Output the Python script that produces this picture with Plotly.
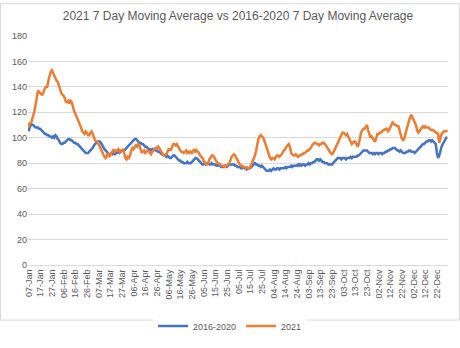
import pandas as pd
import plotly.graph_objects as go

# daily categories (leap-year calendar: 26-Feb + 10 days = 07-Mar)
dates = [d.strftime("%d-%b") for d in pd.date_range("2020-01-07", "2020-12-31", freq="D")]
tick_labels = dates[::10]

avg_2016_2020 = [
    105, 109, 111, 110, 110, 109, 108, 108, 108, 107, 107, 106, 105, 104, 103, 103, 102, 102, 101, 101,
    100, 101, 100, 102, 101, 99, 98, 96, 95, 95, 96, 96, 97, 98, 99, 99, 98, 98, 97, 96,
    96, 95, 95, 94, 93, 92, 91, 90, 89, 88, 88, 88, 89, 90, 91, 92, 94, 95, 96, 97,
    97, 97, 96, 94, 93, 91, 90, 89, 88, 87, 87, 88, 87, 88, 87, 88, 88, 89, 88, 89,
    90, 90, 90, 91, 92, 93, 94, 95, 96, 97, 98, 99, 99, 98, 97, 96, 96, 95, 95, 94,
    93, 93, 92, 91, 91, 90, 91, 90, 91, 90, 90, 89, 89, 88, 87, 87, 86, 86, 85, 86,
    85, 84, 84, 85, 86, 86, 85, 84, 83, 82, 82, 81, 81, 80, 80, 80, 81, 80, 80, 80,
    81, 82, 83, 84, 84, 83, 82, 81, 80, 79, 79, 80, 79, 80, 80, 79, 79, 80, 79, 79,
    79, 78, 78, 79, 78, 77, 77, 77, 78, 78, 77, 78, 79, 79, 79, 79, 79, 78, 78, 77,
    77, 77, 76, 76, 77, 76, 76, 75, 76, 76, 76, 77, 78, 79, 80, 79, 79, 78, 78, 77,
    78, 77, 76, 75, 74, 74, 74, 75, 74, 75, 76, 75, 75, 76, 76, 75, 76, 76, 76, 76,
    77, 76, 77, 77, 77, 78, 77, 78, 78, 78, 78, 79, 78, 79, 78, 79, 79, 78, 79, 79,
    80, 79, 80, 80, 81, 81, 82, 83, 83, 82, 83, 82, 81, 81, 80, 80, 80, 79, 79, 79,
    79, 80, 81, 82, 83, 84, 84, 84, 83, 84, 84, 84, 83, 84, 84, 84, 85, 84, 85, 85,
    85, 85, 86, 86, 87, 88, 89, 90, 90, 90, 90, 89, 88, 88, 88, 87, 88, 87, 88, 88,
    87, 88, 88, 87, 88, 88, 89, 89, 90, 90, 91, 91, 92, 92, 92, 91, 90, 90, 89, 90,
    89, 88, 88, 88, 89, 89, 90, 90, 89, 89, 89, 88, 89, 90, 91, 92, 93, 94, 95, 95,
    96, 97, 97, 98, 98, 97, 98, 97, 96, 95, 88, 84, 86, 90, 93, 95, 97, 99, 100, 100,
]

avg_2021 = [
    108, 112, 111, 114, 118, 121, 126, 131, 137, 136, 135, 134, 134, 137, 139, 140, 140, 145, 149, 152,
    153, 151, 148, 147, 145, 144, 141, 137, 135, 134, 133, 131, 128, 128, 129, 127, 129, 128, 124, 121,
    119, 117, 115, 112, 110, 108, 105, 104, 103, 105, 104, 102, 102, 104, 105, 103, 100, 98, 97, 97,
    95, 93, 90, 88, 86, 85, 84, 86, 88, 85, 86, 88, 89, 91, 89, 90, 90, 91, 89, 90,
    90, 91, 86, 84, 83, 85, 84, 86, 90, 92, 91, 93, 94, 93, 95, 94, 90, 88, 89, 90,
    88, 89, 90, 89, 88, 87, 89, 90, 91, 92, 92, 93, 92, 90, 88, 87, 86, 86, 87, 89,
    91, 91, 90, 93, 95, 95, 94, 95, 93, 91, 90, 89, 89, 88, 89, 90, 88, 89, 88, 89,
    88, 90, 91, 89, 90, 89, 88, 86, 85, 84, 82, 80, 79, 79, 80, 83, 85, 86, 86, 85,
    83, 81, 80, 80, 79, 78, 78, 78, 77, 78, 78, 79, 80, 82, 85, 86, 87, 86, 84, 82,
    80, 79, 78, 78, 77, 77, 76, 77, 76, 76, 77, 79, 82, 84, 86, 90, 95, 99, 101, 102,
    101, 100, 98, 95, 92, 89, 86, 84, 83, 84, 84, 83, 85, 86, 86, 85, 86, 87, 89, 90,
    91, 93, 94, 95, 93, 88, 87, 86, 86, 87, 86, 85, 86, 86, 87, 87, 88, 88, 89, 90,
    90, 91, 92, 94, 95, 96, 96, 95, 95, 94, 95, 95, 96, 96, 95, 94, 92, 91, 89, 88,
    87, 88, 90, 92, 94, 96, 98, 100, 102, 104, 104, 103, 102, 103, 101, 98, 96, 95, 96, 97,
    97, 95, 93, 95, 100, 104, 106, 107, 107, 109, 110, 106, 102, 100, 101, 99, 98, 97, 100, 103,
    103, 104, 104, 105, 106, 106, 107, 107, 105, 106, 108, 110, 112, 111, 110, 110, 109, 109, 106, 101,
    99, 98, 99, 103, 107, 111, 113, 116, 118, 116, 114, 113, 110, 106, 104, 105, 107, 108, 109, 108,
    109, 108, 108, 108, 107, 106, 106, 106, 105, 104, 104, 103, 96, 100, 103, 104, 105, 105, 105, 106,
]

series_names = ["2016-2020", "2021"]
series_colors = ["#4472C4", "#ED7D31"]

fig = go.Figure()
for name, vals, col in zip(series_names, [avg_2016_2020, avg_2021], series_colors):
    fig.add_trace(go.Scatter(x=dates[:len(vals)], y=vals, mode="lines", name=name,
                             line=dict(color=col, width=2.5)))

W, H = 460, 348
L, R, T, B = 28, 12, 36, 61
pw, ph = W - L - R, H - T - B

fig.update_layout(
    width=W, height=H,
    margin=dict(l=L, r=R, t=T, b=B),
    paper_bgcolor="white", plot_bgcolor="white",
    font=dict(family="Liberation Sans, Arial, sans-serif", color="#595959", size=9),
    title=dict(text="2021 7 Day Moving Average vs 2016-2020 7 Day Moving Average",
               x=0.5, xref="paper", xanchor="center", y=1 - 16 / H, yanchor="middle",
               font=dict(size=12, color="#595959")),
    showlegend=True,
    legend=dict(orientation="h", x=0.5, xanchor="center", xref="container",
                y=(H - 326) / H, yref="container", yanchor="middle",
                font=dict(size=9, color="#595959"), itemwidth=30, tracegroupgap=0),
    xaxis=dict(type="category", categoryorder="array", categoryarray=dates,
               tickmode="array", tickvals=tick_labels, ticktext=tick_labels,
               tickangle=-90, showgrid=False, showline=True, linecolor="#D9D9D9",
               linewidth=1, ticks="", range=[-0.5, len(dates) - 0.5],
               tickfont=dict(size=9, color="#595959")),
    yaxis=dict(range=[0, 180], dtick=20, showgrid=True, gridcolor="#D9D9D9", gridwidth=1,
               zeroline=False, showline=False, ticks="",
               tickfont=dict(size=9, color="#595959")),
    shapes=[dict(type="rect", xref="paper", yref="paper",
                 x0=(0.5 - L) / pw, x1=(W - 0.5 - L) / pw,
                 y0=(H - B - (H - 0.5)) / ph, y1=(H - B - 0.5) / ph,
                 line=dict(color="#D9D9D9", width=1), layer="below")],
)

fig.write_html("out.html")
